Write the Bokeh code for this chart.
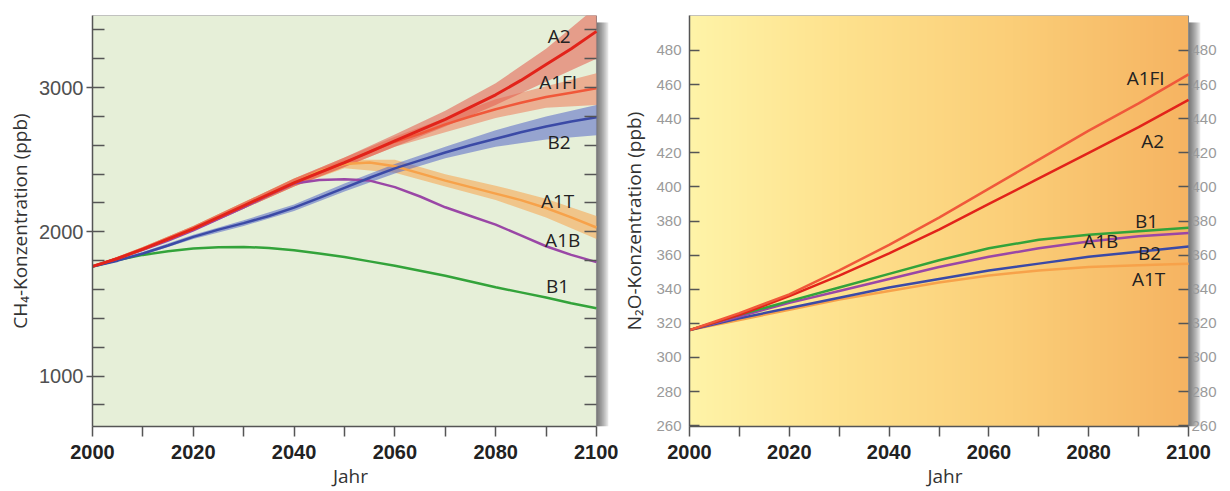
import numpy as np
from bokeh.plotting import figure
from bokeh.layouts import row
from bokeh.models import FixedTicker, LinearAxis, Range1d
from bokeh.core.properties import value
from bokeh.embed import file_html
from bokeh.resources import INLINE

# ---------------- data: CH4 (ppb) ----------------
ch4_years = [2000, 2005, 2010, 2015, 2020, 2025, 2030, 2035, 2040, 2045, 2050,
             2055, 2060, 2065, 2070, 2075, 2080, 2085, 2090, 2095, 2100]
ch4_A2 = [1760, 1815, 1880, 1950, 2020, 2100, 2180, 2260, 2340, 2410, 2480,
          2555, 2630, 2705, 2780, 2865, 2950, 3050, 3160, 3270, 3390]
ch4_A1FI = [1760, 1815, 1880, 1950, 2020, 2100, 2180, 2260, 2340, 2410, 2480,
            2555, 2625, 2680, 2745, 2800, 2850, 2895, 2935, 2965, 2995]
ch4_B2 = [1760, 1800, 1850, 1905, 1965, 2015, 2060, 2110, 2168, 2235, 2305,
          2375, 2440, 2495, 2550, 2600, 2645, 2690, 2730, 2765, 2795]
ch4_A1T = [1760, 1815, 1880, 1950, 2020, 2100, 2180, 2260, 2340, 2420, 2470,
           2480, 2455, 2405, 2355, 2310, 2265, 2220, 2165, 2100, 2030]
ch4_A1B = [1760, 1815, 1875, 1940, 2010, 2090, 2170, 2255, 2335, 2360, 2365,
           2355, 2310, 2245, 2170, 2110, 2050, 1975, 1900, 1840, 1790]
ch4_B1 = [1760, 1805, 1840, 1865, 1885, 1893, 1895, 1888, 1872, 1850, 1825,
          1795, 1765, 1730, 1695, 1655, 1615, 1580, 1545, 1505, 1470]

band_years = [2000, 2010, 2020, 2030, 2040, 2050, 2060, 2070, 2080, 2090, 2100]
ch4_A2_lo = [1760, 1870, 2005, 2160, 2315, 2450, 2590, 2730, 2880, 3040, 3200]
ch4_A2_hi = [1760, 1895, 2040, 2205, 2370, 2515, 2675, 2840, 3030, 3270, 3560]
ch4_A1FI_lo = [1760, 1870, 2005, 2160, 2315, 2450, 2590, 2690, 2790, 2860, 2880]
ch4_A1FI_hi = [1760, 1895, 2040, 2205, 2370, 2515, 2660, 2790, 2920, 3010, 3100]
ch4_B2_lo = [1760, 1840, 1950, 2040, 2145, 2280, 2405, 2510, 2590, 2640, 2670]
ch4_B2_hi = [1760, 1860, 1980, 2080, 2190, 2335, 2470, 2590, 2705, 2800, 2880]
ch4_A1T_lo = [1760, 1870, 2005, 2160, 2315, 2440, 2410, 2315, 2220, 2100, 1950]
ch4_A1T_hi = [1760, 1895, 2040, 2205, 2370, 2500, 2500, 2400, 2320, 2230, 2110]

# ---------------- data: N2O (ppb) ----------------
n2o_years = [2000, 2010, 2020, 2030, 2040, 2050, 2060, 2070, 2080, 2090, 2100]
n2o_A1FI = [316, 326, 337, 351, 366, 382, 399, 416, 433, 449, 466]
n2o_A2 = [316, 325, 336, 348, 361, 375, 390, 405, 420, 435, 451]
n2o_B1 = [316, 325, 333, 341, 349, 357, 364, 369, 372, 374, 376]
n2o_A1B = [316, 324, 332, 339, 346, 353, 359, 364, 368, 371, 373]
n2o_B2 = [316, 323, 329, 335, 341, 346, 351, 355, 359, 362, 365]
n2o_A1T = [316, 322, 328, 334, 339, 344, 348, 351, 353, 354, 355]

# tick labels
x_major = [2000, 2020, 2040, 2060, 2080, 2100]
x_minor = [2010, 2030, 2050, 2070, 2090]
ch4_major = [1000, 2000, 3000]
ch4_minor = [800, 1200, 1400, 1600, 1800, 2200, 2400, 2600, 2800, 3200, 3400]
n2o_ticks = [260, 280, 300, 320, 340, 360, 380, 400, 420, 440, 460, 480]

# curve labels (text, x, y)
ch4_lab_text = ["A2", "A1FI", "B2", "A1T", "A1B", "B1"]
ch4_lab_x = [2092.6, 2092.4, 2092.6, 2092.3, 2093.3, 2092.3]
ch4_lab_y = [3360, 3040, 2625, 2215, 1945, 1625]
n2o_lab_text = ["A1FI", "A2", "B1", "A1B", "B2", "A1T"]
n2o_lab_x = [2091.4, 2092.8, 2091.6, 2082.4, 2092.2, 2092.0]
n2o_lab_y = [464, 427, 380, 368, 361, 346]

# colours
C_A2 = "#e2231a"
C_A1FI = "#f0583a"
C_B2 = "#3b4aa6"
C_A1T = "#f7a24a"
C_A1B = "#9a47a6"
C_B1 = "#33a33a"

LABEL_FONT = "Open Sans"
TICK_FONT = "Liberation Sans"
SHADOW_PX = 12


def add_shadow(p, x1, y0, y1, xpp, ypp):
    # soft drop shadow to the right of the plot area
    for off in [2, 4, 6, 8, 10, 12]:
        p.quad(left=[x1], right=[x1 + off * xpp], bottom=[y0], top=[y1 - 7 * ypp],
               fill_color="black", fill_alpha=0.11, line_color=None)


def style_xaxis(ax):
    ax.ticker = FixedTicker(ticks=x_major, minor_ticks=x_minor)
    ax.bounds = (2000, 2100)
    ax.major_tick_in = 0
    ax.major_tick_out = 10
    ax.minor_tick_in = 0
    ax.minor_tick_out = 10
    ax.axis_line_color = "#555555"
    ax.axis_line_width = 1.5
    ax.major_tick_line_color = "#555555"
    ax.minor_tick_line_color = "#555555"
    ax.major_tick_line_width = 1.5
    ax.minor_tick_line_width = 1.5
    ax.major_label_text_font = TICK_FONT
    ax.major_label_text_font_style = "bold"
    ax.major_label_text_font_size = "20px"
    ax.major_label_text_color = "#222222"
    ax.major_label_standoff = 8
    ax.axis_label = "Jahr"
    ax.axis_label_text_font = LABEL_FONT
    ax.axis_label_text_font_style = "normal"
    ax.axis_label_text_font_size = "19px"
    ax.axis_label_text_color = "#333333"
    ax.axis_label_standoff = 1


# ================= left: CH4 =================
X0, X1 = 2000, 2100
Y0L, Y1L = 650, 3500
xpp1 = (X1 - X0) / 502.0
ypp1 = (Y1L - Y0L) / 411.0
p1 = figure(width=618, height=491, x_range=Range1d(X0, X1 + SHADOW_PX * xpp1),
            y_range=Range1d(Y0L, Y1L),
            output_backend="svg", toolbar_location=None,
            min_border_left=92, min_border_right=10, min_border_top=15, min_border_bottom=65)
p1.background_fill_color = "white"
p1.border_fill_color = "white"
p1.outline_line_color = None
p1.grid.visible = False

add_shadow(p1, X1, Y0L, Y1L, xpp1, ypp1)
p1.quad(left=[X0], right=[X1], bottom=[Y0L], top=[Y1L], fill_color="#e6efd8",
        line_color="#8a8a8a", line_width=1)

style_xaxis(p1.xaxis[0])
ya = p1.yaxis[0]
ya.ticker = FixedTicker(ticks=ch4_major, minor_ticks=ch4_minor)
ya.major_tick_in = 12
ya.major_tick_out = 6
ya.minor_tick_in = 12
ya.minor_tick_out = 0
ya.axis_line_color = "#555555"
ya.axis_line_width = 1.5
ya.major_tick_line_color = "#555555"
ya.minor_tick_line_color = "#555555"
ya.major_tick_line_width = 1.5
ya.minor_tick_line_width = 1.5
ya.major_label_text_font = TICK_FONT
ya.major_label_text_font_size = "20px"
ya.major_label_text_color = "#505050"
ya.major_label_standoff = 3
ya.axis_label = "CH\u2084-Konzentration (ppb)"
ya.axis_label_text_font = LABEL_FONT
ya.axis_label_text_font_style = "normal"
ya.axis_label_text_font_size = "19px"
ya.axis_label_text_color = "#333333"
ya.axis_label_standoff = 3

ra = LinearAxis(ticker=FixedTicker(ticks=ch4_major + ch4_minor), fixed_location=X1)
ra.major_tick_in = 12
ra.major_tick_out = 0
ra.major_tick_line_color = "#555555"
ra.major_tick_line_width = 1.5
ra.axis_line_color = None
ra.major_label_text_color = None
ra.major_label_overrides = {v: "" for v in ch4_major + ch4_minor}
ra.major_label_standoff = 0
p1.add_layout(ra, "right")

# uncertainty bands
p1.varea(x=band_years, y1=ch4_A1T_lo, y2=ch4_A1T_hi, fill_color="#f7a24a", fill_alpha=0.55)
p1.varea(x=band_years, y1=ch4_B2_lo, y2=ch4_B2_hi, fill_color="#5466c8", fill_alpha=0.55)
p1.varea(x=band_years, y1=ch4_A1FI_lo, y2=ch4_A1FI_hi, fill_color="#ef7a5a", fill_alpha=0.55)
p1.varea(x=band_years, y1=ch4_A2_lo, y2=ch4_A2_hi, fill_color="#e35a4a", fill_alpha=0.55)

p1.line(ch4_years, ch4_B1, line_color=C_B1, line_width=2.5)
p1.line(ch4_years, ch4_A1B, line_color=C_A1B, line_width=2.5)
p1.line(ch4_years, ch4_A1T, line_color=C_A1T, line_width=2.5)
p1.line(ch4_years, ch4_B2, line_color=C_B2, line_width=2.5)
p1.line(ch4_years, ch4_A1FI, line_color=C_A1FI, line_width=2.5)
p1.line(ch4_years, ch4_A2, line_color=C_A2, line_width=3)

p1.text(x=ch4_lab_x, y=ch4_lab_y, text=ch4_lab_text, text_font=value(LABEL_FONT),
        text_font_size="19px", text_color="#222222", text_align="center",
        text_baseline="middle")

# ================= right: N2O =================
Y0R, Y1R = 259.5, 500.5
xpp2 = (X1 - X0) / 501.0
ypp2 = (Y1R - Y0R) / 412.0
p2 = figure(width=610, height=491, x_range=Range1d(X0, X1 + SHADOW_PX * xpp2),
            y_range=Range1d(Y0R, Y1R),
            output_backend="svg", toolbar_location=None,
            min_border_left=69, min_border_right=28, min_border_top=15, min_border_bottom=65)
p2.background_fill_color = "white"
p2.border_fill_color = "white"
p2.outline_line_color = None
p2.grid.visible = False

add_shadow(p2, X1, Y0R, Y1R, xpp2, ypp2)

# horizontal background gradient (pale yellow -> orange)
W = 300
stops = np.array([0.0, 0.3, 0.65, 1.0])
cols = np.array([[255, 244, 168], [254, 226, 142], [251, 206, 120], [246, 180, 98]], dtype=float)
t = np.linspace(0, 1, W)
rgb = np.stack([np.interp(t, stops, cols[:, k]) for k in range(3)], axis=1)
img = np.empty((2, W), dtype=np.uint32)
view = img.view(dtype=np.uint8).reshape((2, W, 4))
for r in range(2):
    view[r, :, 0] = rgb[:, 0]
    view[r, :, 1] = rgb[:, 1]
    view[r, :, 2] = rgb[:, 2]
    view[r, :, 3] = 255
p2.image_rgba(image=[img], x=X0, y=Y0R, dw=X1 - X0, dh=Y1R - Y0R)
p2.quad(left=[X0], right=[X1], bottom=[Y0R], top=[Y1R], fill_color=None,
        line_color="#8a8a8a", line_width=1)

style_xaxis(p2.xaxis[0])


def style_n2o_y(ax, standoff):
    ax.ticker = FixedTicker(ticks=n2o_ticks)
    ax.major_tick_in = 10
    ax.major_tick_out = 0
    ax.minor_tick_in = 0
    ax.minor_tick_out = 0
    ax.major_tick_line_color = "#555555"
    ax.major_tick_line_width = 1.5
    ax.major_label_text_font = TICK_FONT
    ax.major_label_text_font_size = "15px"
    ax.major_label_text_color = "#9a9a9a"
    ax.major_label_standoff = standoff


ly = p2.yaxis[0]
style_n2o_y(ly, 8)
ly.axis_line_color = "#555555"
ly.axis_line_width = 1.5
ly.axis_label = "N\u2082O-Konzentration (ppb)"
ly.axis_label_text_font = LABEL_FONT
ly.axis_label_text_font_style = "normal"
ly.axis_label_text_font_size = "19px"
ly.axis_label_text_color = "#333333"
ly.axis_label_standoff = 6

# right edge: inner ticks at the plot edge, labels just outside it
ry_ticks = LinearAxis(fixed_location=X1)
style_n2o_y(ry_ticks, 0)
ry_ticks.axis_line_color = None
ry_ticks.major_label_text_color = None
ry_ticks.major_label_overrides = {v: "" for v in n2o_ticks}
p2.add_layout(ry_ticks, "right")

ry = LinearAxis()
style_n2o_y(ry, -9)
ry.major_tick_in = 0
ry.major_tick_line_color = None
ry.axis_line_color = None
p2.add_layout(ry, "right")

p2.line(n2o_years, n2o_A1T, line_color=C_A1T, line_width=2.5)
p2.line(n2o_years, n2o_B2, line_color=C_B2, line_width=2.5)
p2.line(n2o_years, n2o_A1B, line_color=C_A1B, line_width=2.5)
p2.line(n2o_years, n2o_B1, line_color=C_B1, line_width=2.5)
p2.line(n2o_years, n2o_A2, line_color=C_A2, line_width=2.5)
p2.line(n2o_years, n2o_A1FI, line_color=C_A1FI, line_width=2.5)

p2.text(x=n2o_lab_x, y=n2o_lab_y, text=n2o_lab_text, text_font=value(LABEL_FONT),
        text_font_size="19px", text_color="#222222", text_align="center",
        text_baseline="middle")

layout = row(p1, p2)
open("out.html", "w").write(file_html(layout, INLINE))
